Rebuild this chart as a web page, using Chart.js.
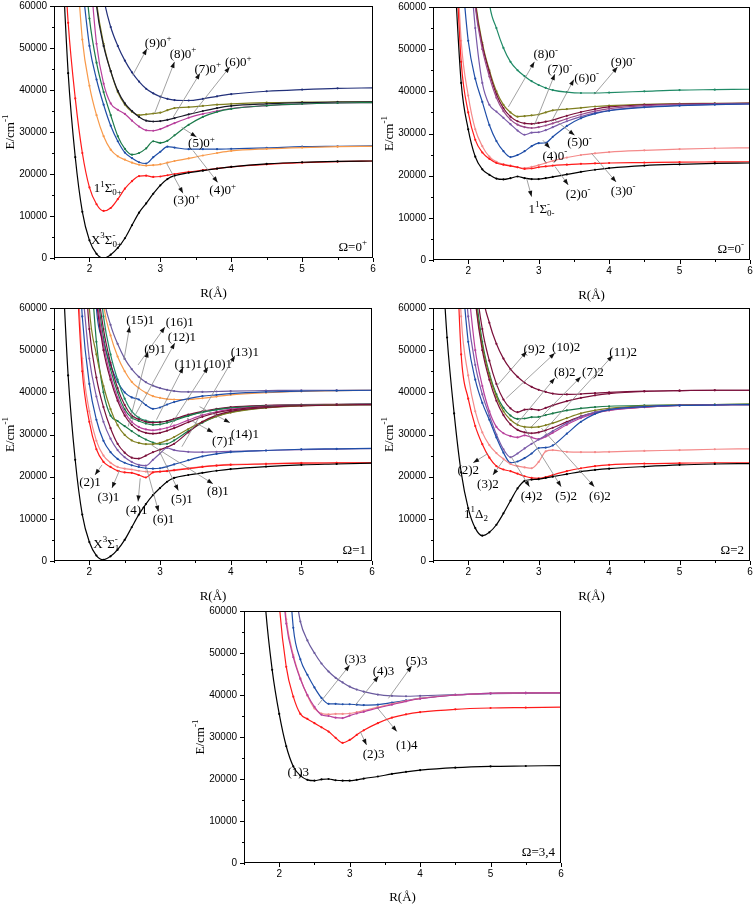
<!DOCTYPE html>
<html>
<head>
<meta charset="utf-8">
<script src="https://cdn.jsdelivr.net/npm/chart.js@4.4.1/dist/chart.umd.min.js"></script>
<style>
  body { margin: 0; background: #fff; width: 756px; height: 907px; position: relative; overflow: hidden; }
  canvas { position: absolute; }
</style>
</head>
<body>
<canvas id="p1"></canvas>
<canvas id="p2"></canvas>
<canvas id="p3"></canvas>
<canvas id="p4"></canvas>
<canvas id="p5"></canvas>
<script>
// internuclear distance grid (Å), shared by every curve
const R = [1.6,1.7,1.8,1.9,2.0,2.1,2.2,2.3,2.4,2.5,2.6,2.7,2.8,2.9,3.0,3.1,3.2,3.4,3.6,3.8,4.0,4.5,5.0,5.5,6.0];
const yTicks = [0,10000,20000,30000,40000,50000,60000];
const xTicks = [2,3,4,5,6];
const _ = null;

// ---- Ω=0+ (cm-1)
const x3s0p = [77000,44000,24000,11000,4200,1000,0,800,2400,4700,7800,10800,13000,15300,17300,18800,19600,20300,20800,21300,21700,22400,22800,23000,23100];
const s1_0p = [85000,56000,38000,25000,16800,12800,11200,11900,14000,16500,18300,19500,19600,19300,19400,19700,20000,20500,20900,21300,21700,22300,22700,22950,23100];
const p3_0p = [_,_,75000,52000,41000,34000,29000,25800,24200,23400,22700,22200,22000,22100,22300,22700,23100,23700,24400,25000,25500,26000,26300,26500,26600];
const p4_0p = [_,_,_,65000,50500,42500,36500,31500,27800,25100,23800,22800,22500,24000,25300,26500,26300,25900,25900,25900,26000,26200,26500,26600,26700];
const p5_0p = [_,_,_,75000,57000,46500,39500,34000,29000,26000,24600,25000,26100,27800,27400,27900,29200,31700,33600,34800,35500,36300,36700,36900,37000];
const p6_0p = [_,_,_,_,70000,51000,41500,36800,35300,34300,32700,31300,30400,30300,30700,31400,32100,33400,34300,35000,35600,36300,36700,36900,37000];
const p7_0p = [_,_,_,_,80000,60000,50500,44500,39800,36800,35000,33600,32700,32500,32600,32900,33300,34200,35000,35700,36200,36700,37000,37100,37200];
const p8_0p = [_,_,_,_,80000,61000,51000,44500,39500,36500,34800,34000,34200,34400,34600,35200,35700,35900,36200,36500,36700,37000,37100,37150,37200];
const p9_0p = [_,_,_,_,_,75000,62000,55000,50500,47000,44200,42000,40300,39200,38400,37900,37600,37500,37900,38500,39000,39700,40100,40400,40500];

// ---- Ω=0-
const s1_0m = [_,_,70000,42000,31000,24500,21500,20200,19300,19100,19400,19800,19400,19200,19200,19400,19700,20300,20900,21400,21800,22400,22700,22900,23000];
const p2_0m = [_,_,80000,47000,35000,28500,25500,24000,23000,22600,22300,22000,21600,21700,22000,22200,22400,22600,22800,22900,23000,23100,23200,23250,23300];
const p3_0m = [_,_,85000,52000,39000,31000,27000,24500,23300,22700,22400,22000,21800,22100,22500,23000,23500,24300,24900,25300,25600,26000,26300,26500,26600];
const p4_0m = [_,_,_,70000,52000,43000,37500,32000,28200,25800,24400,24900,25800,27000,27700,27800,29200,31800,33600,34700,35400,36200,36600,36850,37000];
const p5_0m = [_,_,_,_,75000,55000,42000,36800,35200,33700,32200,30700,29700,30200,30300,30800,31500,32900,34000,34900,35500,36300,36700,36900,37000];
const p6_0m = [_,_,_,_,80000,60000,50000,43500,38500,35300,33300,32100,31500,31300,31500,31900,32400,33500,34500,35300,35900,36600,36900,37000,37100];
const p7_0m = [_,_,_,_,82000,61000,51000,44500,39300,36000,34000,32900,32400,32300,32500,32800,33200,34200,35100,35800,36300,36800,37000,37100,37200];
const p8_0m = [_,_,_,_,83000,62000,51500,45000,40000,36800,35000,34000,34100,34300,34500,35000,35500,35800,36100,36400,36600,36900,37100,37150,37200];
const p9_0m = [_,_,_,_,_,_,80000,61000,55000,50300,47000,45000,43600,42400,41500,40800,40300,39800,39600,39600,39700,40000,40300,40400,40500];

// ---- Ω=1
const x3s1  = [77000,44000,24000,11000,4500,1300,300,1100,2700,5000,8000,11000,13500,15600,17300,18800,19700,20400,20900,21400,21800,22400,22800,23000,23200];
const p2_1  = [_,_,75000,45000,33000,26500,23500,22300,21400,21000,20900,20400,19800,21000,21200,21300,21500,21900,22300,22600,22800,23000,23200,23250,23300];
const p3_1  = [_,_,80000,48000,35500,28500,25000,23300,22300,21900,21700,21400,21200,21100,21200,21400,21600,22000,22400,22700,22900,23100,23250,23300,23350];
const p4_1  = [_,_,90000,58000,42000,33500,28500,25800,24200,23300,22700,22300,22000,21900,22000,22400,22900,23900,24800,25400,25800,26200,26500,26600,26700];
const p5_1  = [_,_,_,65000,48000,39000,33000,29000,26300,24600,23500,22800,22600,24000,25500,26800,26300,25900,25800,25900,26000,26200,26400,26550,26650];
const p6_1  = [_,_,_,80000,55000,43500,36500,31500,27800,25700,24500,24300,25000,25800,26400,27000,27800,30500,33000,34600,35500,36400,36800,37000,37100];
const p7_1  = [_,_,_,95000,60000,49000,41500,36000,32200,29900,28600,28000,27700,27700,28000,28600,29400,31300,33000,34300,35200,36300,36800,37000,37100];
const p8_1  = [_,_,_,_,75000,52000,40000,34500,33200,32000,30800,29700,28800,28100,27700,27800,28600,30800,32800,34300,35300,36400,36900,37000,37100];
const p9_1  = [_,_,_,_,85000,62000,50000,43000,38000,34500,32300,31000,30400,30200,30400,30900,31500,32900,34200,35200,35800,36600,36900,37000,37100];
const p10_1 = [_,_,_,_,88000,64000,51500,44000,38800,35300,33000,31800,31200,31000,31200,31600,32100,33400,34600,35400,36000,36700,37000,37100,37150];
const p11_1 = [_,_,_,_,90000,66000,53000,45500,40000,36000,34000,33200,32600,32300,32400,32800,33300,34400,35300,35900,36300,36800,37000,37100,37200];
const p12_1 = [_,_,_,_,92000,68000,55000,47000,41000,37000,34500,33600,33000,32800,32900,33200,33700,34700,35500,36100,36500,36900,37100,37150,37200];
const p13_1 = [_,_,_,_,_,75000,58000,49000,43000,38500,35500,34000,33300,33000,33000,33200,33600,34500,35300,35900,36300,36800,37000,37100,37200];
const p14_1 = [_,_,_,_,95000,60000,52000,46500,42500,40000,38800,38300,37000,36100,36400,37100,37700,38500,39100,39400,39700,40100,40300,40400,40500];
const p15_1 = [_,_,_,_,_,80000,63000,56000,51500,48000,45500,43700,42400,41600,41000,40600,40300,40100,40100,40200,40300,40400,40500,40500,40500];
const p16_1 = [_,_,_,_,_,80000,61000,53500,48500,45000,42500,41000,39900,39100,38700,38400,38300,38300,38600,39000,39400,39900,40200,40400,40500];

// ---- Ω=2
const d1_2  = [80000,53000,35000,21000,12500,7800,6000,6800,8600,11300,14300,17200,19000,19300,19400,19700,20000,20600,21200,21600,21900,22400,22800,23000,23100];
const p2_2  = [_,_,90000,49000,38500,32000,27700,24500,22500,21700,21300,20700,20100,19700,19600,19900,20400,21300,22000,22500,22800,23100,23200,23300,23300];
const p3_2  = [_,_,100000,58000,44000,35500,30500,27500,25600,24200,23000,22500,22200,22000,23500,26000,26300,25900,25800,25800,25900,26100,26300,26500,26600];
const p4_2  = [_,_,_,70000,52000,43000,37500,33500,29300,25700,23300,23600,24400,25500,26800,26900,27400,30200,33000,34900,35900,36600,36900,37000,37100];
const p5_2  = [_,_,_,80000,58000,46500,39500,34500,30000,26500,24600,25500,26700,27800,28800,29800,30800,32700,34200,35300,35900,36600,36900,37000,37100];
const p6_2  = [_,_,_,_,65000,50000,41500,35500,31800,30300,29600,29300,29800,29300,28900,29500,30400,32300,33900,35000,35700,36500,36900,37000,37100];
const p7_2  = [_,_,_,_,85000,62000,50000,43000,38000,34600,32400,31100,30500,30300,30500,31000,31600,33000,34300,35200,35800,36500,36900,37000,37100];
const p8_2  = [_,_,_,_,88000,63000,51000,44000,39000,35500,33500,32300,31800,31700,31800,32200,32700,33900,35000,35700,36200,36800,37000,37100,37200];
const p9_2  = [_,_,_,_,90000,65000,52000,44500,39500,36300,34500,33700,33800,34100,34200,34600,35000,35700,36200,36500,36700,36900,37000,37100,37200];
const p10_2 = [_,_,_,_,95000,68000,55000,47500,42000,38300,36200,35300,35900,36000,35800,36300,36900,37900,38700,39300,39700,40200,40400,40500,40500];
const p11_2 = [_,_,_,_,_,85000,64000,56500,51500,48000,45500,43700,42300,41300,40600,40100,39700,39500,39600,39800,40000,40300,40400,40500,40500];

// ---- Ω=3,4
const p1_3  = [_,90000,62000,46000,35500,27800,23000,20800,19800,19600,19900,20000,19700,19600,19600,19800,20100,20600,21200,21700,22100,22700,23000,23100,23200];
const p2_3  = [_,_,_,95000,62000,46700,39600,35500,34300,33300,32300,31300,29800,28600,29300,30500,31600,33300,34600,35400,35900,36600,36900,37000,37100];
const p1_4  = [_,_,_,_,75000,57000,49000,43800,40000,37200,35300,35000,34600,34500,35100,35600,36000,36900,37700,38500,39100,40000,40400,40500,40500];
const p4_3  = [_,_,_,_,78000,58000,49500,44000,39800,36800,35600,35400,35500,35500,35600,35900,36300,37100,37900,38600,39200,40000,40400,40500,40500];
const p3_3  = [_,_,_,_,_,80000,56000,48500,44800,41800,39300,37900,37900,37800,37800,37700,37600,37700,38200,38700,39200,40000,40400,40500,40500];
const p5_3  = [_,_,_,_,_,_,68000,57500,53000,50000,47500,45600,44100,43000,42000,41300,40800,40100,39800,39700,39800,40100,40300,40400,40500];

const C = {
  black: '#000000', red: '#ff1a1a', pink: '#f48a8a', orange: '#f89a4a', blue: '#1f4ea8',
  green: '#1b7a4a', magenta: '#b8409c', dark: '#1a1a2a', olive: '#7f7f20', navy: '#22307a',
  purple: '#7a5aa8', mauve: '#9a4a8a', maroon: '#7a0f3a', teal: '#1f8a66', slate: '#6a5a9e'
};

function richParse(s) {
  const parts = [];
  let i = 0;
  while (i < s.length) {
    if ((s[i] === '^' || s[i] === '_') && s[i + 1] === '{') {
      const end = s.indexOf('}', i);
      const t = s.slice(i + 2, end);
      const kind = s[i] === '^' ? 'sup' : 'sub';
      const last = parts[parts.length - 1];
      if (last && last.t === undefined && last[kind] === undefined) last[kind] = t;
      else parts.push({ [kind]: t });
      i = end + 1;
    } else {
      let j = i;
      while (j < s.length && !((s[j] === '^' || s[j] === '_') && s[j + 1] === '{')) j++;
      parts.push({ t: s.slice(i, j) });
      i = j;
    }
  }
  return parts;
}

function drawRich(ctx, s, x, y, align, size) {
  const parts = richParse(s);
  const big = size + 'px "Liberation Serif"', small = Math.round(size * 0.68) + 'px "Liberation Serif"';
  let w = 0;
  for (const p of parts) {
    if (p.t !== undefined) { ctx.font = big; w += ctx.measureText(p.t).width; }
    else { ctx.font = small; w += Math.max(ctx.measureText(p.sup || '').width, ctx.measureText(p.sub || '').width); }
  }
  let cx = align === 'r' ? x - w : align === 'l' ? x : x - w / 2;
  const base = y + size * 0.35;
  ctx.textAlign = 'left';
  ctx.textBaseline = 'alphabetic';
  ctx.fillStyle = '#000';
  for (const p of parts) {
    if (p.t !== undefined) { ctx.font = big; ctx.fillText(p.t, cx, base); cx += ctx.measureText(p.t).width; }
    else {
      ctx.font = small;
      let ww = 0;
      if (p.sup) { ctx.fillText(p.sup, cx, base - size * 0.42); ww = ctx.measureText(p.sup).width; }
      if (p.sub) { ctx.fillText(p.sub, cx, base + size * 0.22); ww = Math.max(ww, ctx.measureText(p.sub).width); }
      cx += ww;
    }
  }
}

const decor = {
  id: 'decor',
  afterDatasetsDraw(chart) {
    const ctx = chart.ctx, a = chart.chartArea, xs = chart.scales.x, ys = chart.scales.y;
    const o = chart.options.plugins.decor;
    ctx.save();
    ctx.strokeStyle = '#000';
    ctx.lineWidth = 1;
    ctx.strokeRect(a.left + 0.5, a.top + 0.5, a.right - a.left - 1, a.bottom - a.top - 1);
    ctx.beginPath();
    for (let v = 0; v <= 60000; v += 5000) {
      const y = Math.round(ys.getPixelForValue(v)) + 0.5, len = v % 10000 === 0 ? 4 : 2;
      ctx.moveTo(a.left - len, y); ctx.lineTo(a.left, y);
    }
    for (let r = 1.5; r <= 6.001; r += 0.5) {
      const x = Math.round(xs.getPixelForValue(r)) + 0.5, len = Math.abs(r - Math.round(r)) < 0.01 ? 4 : 2;
      ctx.moveTo(x, a.bottom); ctx.lineTo(x, a.bottom + len);
    }
    ctx.stroke();

    // arrows and state labels
    for (const n of o.notes) {
      const [txt, lr, le, fr, fe, tr, te] = n;
      if (fr !== undefined) {
        const x1 = xs.getPixelForValue(fr), y1 = ys.getPixelForValue(fe);
        const x2 = xs.getPixelForValue(tr), y2 = ys.getPixelForValue(te);
        ctx.strokeStyle = '#8a8a8a'; ctx.lineWidth = 0.8;
        ctx.beginPath(); ctx.moveTo(x1, y1); ctx.lineTo(x2, y2); ctx.stroke();
        const ang = Math.atan2(y2 - y1, x2 - x1);
        ctx.fillStyle = '#111';
        ctx.beginPath();
        ctx.moveTo(x2, y2);
        ctx.lineTo(x2 - 6 * Math.cos(ang) + 2.2 * Math.sin(ang), y2 - 6 * Math.sin(ang) - 2.2 * Math.cos(ang));
        ctx.lineTo(x2 - 6 * Math.cos(ang) - 2.2 * Math.sin(ang), y2 - 6 * Math.sin(ang) + 2.2 * Math.cos(ang));
        ctx.closePath(); ctx.fill();
      }
      drawRich(ctx, txt, xs.getPixelForValue(lr), ys.getPixelForValue(le), 'c', 13);
    }
    drawRich(ctx, o.omega, a.right - 6, ys.getPixelForValue(0) - 12, 'r', 13);

    // axis titles
    ctx.save();
    ctx.translate(a.left - 45, (a.top + a.bottom) / 2);
    ctx.rotate(-Math.PI / 2);
    drawRich(ctx, 'E/cm^{-1}', 0, 0, 'c', 13);
    ctx.restore();
    drawRich(ctx, 'R(Å)', (a.left + a.right) / 2, a.bottom + o.rOff, 'c', 13);
    ctx.restore();
  }
};

function panel(id, box, series, notes, omega, rOff) {
  const cv = document.getElementById(id);
  const W = box.r - box.l + 70, H = box.b - box.t + 64;
  cv.width = W; cv.height = H;
  cv.style.left = (box.l - 56) + 'px';
  cv.style.top = (box.t - 20) + 'px';
  cv.style.width = W + 'px'; cv.style.height = H + 'px';
  const datasets = series.map(([vals, col]) => ({
    data: R.map((r, i) => ({ x: r, y: vals[i] })),
    borderColor: col, backgroundColor: col, pointBackgroundColor: col,
    borderWidth: 1.2, pointRadius: 1.1, pointBorderWidth: 0,
    cubicInterpolationMode: 'monotone', spanGaps: false, fill: false
  }));
  new Chart(cv.getContext('2d'), {
    type: 'line',
    data: { datasets },
    options: {
      responsive: false, animation: false, devicePixelRatio: 1,
      layout: { padding: { top: 20, right: 14, left: 0, bottom: 0 } },
      plugins: { legend: { display: false }, tooltip: { enabled: false }, decor: { notes, omega, rOff } },
      scales: {
        x: {
          type: 'linear', min: 1.5, max: 6,
          grid: { display: false, drawTicks: false }, border: { display: false },
          afterBuildTicks: s => { s.ticks = xTicks.map(v => ({ value: v })); },
          afterFit: s => { s.height = 44; },
          ticks: { color: '#000', padding: 5, font: { family: 'Liberation Sans', size: 10 }, maxRotation: 0, callback: v => String(v) }
        },
        y: {
          min: 0, max: 60000,
          grid: { display: false, drawTicks: false }, border: { display: false },
          afterBuildTicks: s => { s.ticks = yTicks.map(v => ({ value: v })); },
          afterFit: s => { s.width = 56; },
          ticks: { color: '#000', padding: 7, font: { family: 'Liberation Sans', size: 10 }, callback: v => String(v) }
        }
      }
    },
    plugins: [decor]
  });
}

panel('p1', { l: 54, t: 6, r: 373, b: 258 }, [
  [x3s0p, C.black], [s1_0p, C.red], [p3_0p, C.orange], [p4_0p, C.blue], [p5_0p, C.green],
  [p6_0p, C.magenta], [p7_0p, C.dark], [p8_0p, C.olive], [p9_0p, C.navy]
], [
  ['(9)0^{+}', 2.97, 51400, 2.61, 43500, 2.81, 49800],
  ['(8)0^{+}', 3.32, 48800, 2.92, 34500, 3.2, 46700],
  ['(7)0^{+}', 3.67, 45200, 3.18, 33500, 3.56, 44000],
  ['(6)0^{+}', 4.1, 46700, 3.46, 34400, 3.98, 45500],
  ['(5)0^{+}', 3.58, 27400, 3.3, 31100, 3.51, 28800],
  ['(4)0^{+}', 3.88, 16300, 3.46, 25600, 3.81, 18000],
  ['(3)0^{+}', 3.37, 13900, 3.09, 22500, 3.32, 15400],
  ['1^{1}Σ^{-}_{0+}', 2.26, 16800],
  ['X^{3}Σ^{-}_{0+}', 2.24, 4500]
], 'Ω=0^{+}', 34);

panel('p2', { l: 433, t: 7, r: 750, b: 260 }, [
  [s1_0m, C.black], [p2_0m, C.red], [p3_0m, C.pink], [p4_0m, C.blue], [p5_0m, C.purple],
  [p6_0m, C.mauve], [p7_0m, C.maroon], [p8_0m, C.olive], [p9_0m, C.teal]
], [
  ['(8)0^{-}', 3.1, 48900, 2.57, 36300, 2.94, 47000],
  ['(7)0^{-}', 3.3, 45400, 2.94, 32000, 3.23, 44100],
  ['(6)0^{-}', 3.68, 43400, 3.18, 32800, 3.5, 42800],
  ['(9)0^{-}', 4.2, 47000, 3.79, 39300, 4.12, 45800],
  ['(5)0^{-}', 3.58, 28000, 3.23, 33200, 3.51, 29600],
  ['(4)0^{-}', 3.23, 24900, 3.06, 28400, 3.16, 26500],
  ['(3)0^{-}', 4.2, 16600, 3.75, 25300, 4.1, 18500],
  ['(2)0^{-}', 3.56, 15800, 3.23, 22200, 3.42, 17800],
  ['1^{1}Σ^{-}_{0-}', 3.04, 12300, 2.83, 19300, 2.9, 15000]
], 'Ω=0^{-}', 34);

panel('p3', { l: 54, t: 308, r: 372, b: 561 }, [
  [x3s1, C.black], [p2_1, C.red], [p3_1, C.pink], [p4_1, C.blue], [p5_1, C.purple],
  [p6_1, C.maroon], [p7_1, C.olive], [p8_1, C.green], [p9_1, C.maroon], [p10_1, C.magenta],
  [p11_1, C.green], [p12_1, C.maroon], [p13_1, C.teal], [p14_1, C.blue], [p15_1, C.slate], [p16_1, C.orange]
], [
  ['(15)1', 2.72, 57200, 2.49, 47700, 2.57, 55600],
  ['(16)1', 3.28, 56800, 2.69, 46500, 3.07, 55500],
  ['(12)1', 3.31, 53200, 2.6, 33100, 3.21, 51700],
  ['(9)1', 2.93, 50500, 2.55, 31900, 2.83, 49700],
  ['(11)1', 3.4, 46900, 2.95, 33500, 3.33, 46000],
  ['(10)1', 3.82, 46900, 3.14, 31900, 3.68, 46000],
  ['(13)1', 4.2, 49700, 3.31, 27100, 4.06, 48700],
  ['(14)1', 4.2, 30300, 3.56, 36600, 3.99, 32800],
  ['(7)1', 3.89, 28700, 3.38, 33900, 3.75, 30500],
  ['(8)1', 3.82, 16700, 2.88, 27500, 3.75, 18300],
  ['(5)1', 3.31, 14900, 2.98, 26400, 3.26, 16700],
  ['(6)1', 3.05, 10100, 2.81, 22000, 2.98, 11700],
  ['(4)1', 2.67, 12300, 2.72, 19600, 2.69, 14100],
  ['(3)1', 2.27, 15300, 2.43, 21600, 2.32, 17300],
  ['(2)1', 2.01, 18800, 2.18, 22800, 2.08, 20400],
  ['X^{3}Σ^{-}_{1}', 2.24, 4200]
], 'Ω=1', 34);

panel('p4', { l: 433, t: 308, r: 750, b: 561 }, [
  [d1_2, C.black], [p2_2, C.red], [p3_2, C.pink], [p4_2, C.blue], [p5_2, C.purple],
  [p6_2, C.magenta], [p7_2, C.maroon], [p8_2, C.olive], [p9_2, C.green], [p10_2, C.maroon], [p11_2, C.maroon]
], [
  ['(9)2', 2.94, 50500, 2.4, 41400, 2.83, 49700],
  ['(10)2', 3.39, 50900, 2.54, 38600, 3.23, 49300],
  ['(8)2', 3.37, 44900, 2.68, 32300, 3.23, 43400],
  ['(7)2', 3.77, 44900, 2.9, 31900, 3.6, 43700],
  ['(11)2', 4.2, 49700, 3.09, 31100, 4.05, 48700],
  ['(2)2', 2.0, 21600, 2.28, 25500, 2.07, 23300],
  ['(3)2', 2.28, 18400, 2.5, 23900, 2.35, 20400],
  ['(4)2', 2.9, 15600, 2.61, 24700, 2.87, 17600],
  ['(5)2', 3.39, 15600, 2.8, 31500, 3.32, 17600],
  ['(6)2', 3.87, 15600, 3.04, 31500, 3.79, 17600],
  ['1^{1}Δ_{2}', 2.11, 11300]
], 'Ω=2', 34);

panel('p5', { l: 244, t: 611, r: 561, b: 863 }, [
  [p1_3, C.black], [p2_3, C.red], [p1_4, C.magenta], [p4_3, C.pink], [p3_3, C.blue], [p5_3, C.slate]
], [
  ['(3)3', 3.08, 48700, 2.55, 37600, 3.0, 47100],
  ['(4)3', 3.48, 45900, 3.08, 37600, 3.41, 44500],
  ['(5)3', 3.95, 48300, 3.55, 39200, 3.88, 46900],
  ['(1)4', 3.81, 28300, 3.38, 37200, 3.67, 31300],
  ['(2)3', 3.34, 26100, 3.15, 31300, 3.24, 28100],
  ['(1)3', 2.27, 21900]
], 'Ω=3,4', 33);
</script>
</body>
</html>
